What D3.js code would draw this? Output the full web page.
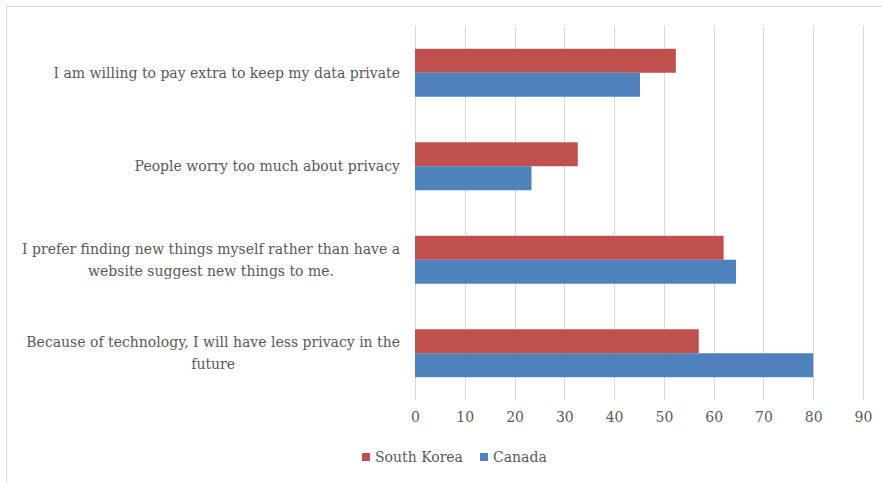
<!DOCTYPE html>
<html>
<head>
<meta charset="utf-8">
<script src="https://cdn.jsdelivr.net/npm/d3@7"></script>
<style>
  html, body { margin: 0; padding: 0; background: #fff; }
  svg { display: block; }
  text { font-family: "DejaVu Serif", "Liberation Serif", serif; fill: #595959; }
</style>
</head>
<body>
<svg id="chart" width="882" height="483"></svg>
<script>
// Survey statements, listed top to bottom
const categories = [
  "I am willing to pay extra to keep my data private",
  "People worry too much about privacy",
  "I prefer finding new things myself rather than have a\nwebsite suggest new things to me.",
  "Because of technology, I will have less privacy in the\nfuture"
];
const seriesNames = ["South Korea", "Canada"];
const southKorea = [52.4, 32.7, 62.0, 57.0];
const canada = [45.2, 23.4, 64.5, 80.0];
const xTicks = [0, 10, 20, 30, 40, 50, 60, 70, 80, 90];
const colors = ["#c0504d", "#4f81bd"];

const svg = d3.select("#chart");
const margin = { left: 415, right: 19, top: 26, bottom: 83 };
const W = 882, H = 483;
const fontSize = 14;

// Chart area frame
svg.append("rect")
  .attr("x", 6.5).attr("y", 6.5)
  .attr("width", 900).attr("height", 500)
  .attr("fill", "none").attr("stroke", "#d9d9d9").attr("stroke-width", 1);

const x = d3.scaleLinear().domain([0, 90]).range([margin.left, W - margin.right]);
const y = d3.scaleBand().domain(categories).range([margin.top, H - margin.bottom])
  .paddingInner(0.487).paddingOuter(0.2435);
const inner = d3.scaleBand().domain(seriesNames).range([0, y.bandwidth()]);

// Vertical gridlines
svg.append("g").selectAll("line").data(xTicks).join("line")
  .attr("x1", d => Math.round(x(d)) + 0.5).attr("x2", d => Math.round(x(d)) + 0.5)
  .attr("y1", margin.top).attr("y2", H - margin.bottom)
  .attr("stroke", "#d9d9d9").attr("stroke-width", 1);

// Bars
const seriesData = [southKorea, canada];
seriesNames.forEach((name, si) => {
  svg.append("g").selectAll("rect").data(categories).join("rect")
    .attr("x", x(0))
    .attr("y", c => y(c) + inner(name))
    .attr("width", (c, i) => x(seriesData[si][i]) - x(0))
    .attr("height", inner.bandwidth())
    .attr("fill", colors[si]);
});

// X-axis tick labels
const xAxis = svg.append("g")
  .attr("transform", `translate(0,${H - margin.bottom})`)
  .call(d3.axisBottom(x).tickValues(xTicks).tickSize(0).tickPadding(12));
xAxis.select(".domain").remove();
xAxis.selectAll("text")
  .style("font-family", '"DejaVu Serif", "Liberation Serif", serif')
  .style("font-size", fontSize + "px").attr("fill", "#595959");

// Category labels, wrapped lines centred within a right-aligned block
const labelRight = 400;
const lineH = 22;
const labels = svg.append("g");
categories.forEach(c => {
  const lines = c.split("\n");
  const g = labels.append("g");
  const t = g.append("text").attr("font-size", fontSize + "px").attr("text-anchor", "middle");
  lines.forEach((ln, i) => {
    t.append("tspan").attr("x", 0)
      .attr("y", y(c) + y.bandwidth() / 2 + (i - (lines.length - 1) / 2) * lineH)
      .attr("dy", "0.35em").text(ln);
  });
  const w = t.node().getBBox().width;
  g.attr("transform", `translate(${labelRight - w / 2},0)`);
});

// Legend
const legendItems = [
  { name: "South Korea", color: colors[0], x: 362 },
  { name: "Canada", color: colors[1], x: 480 }
];
const lg = svg.append("g");
legendItems.forEach(d => {
  lg.append("rect").attr("x", d.x).attr("y", 453).attr("width", 8).attr("height", 8).attr("fill", d.color);
  lg.append("text").attr("x", d.x + 13).attr("y", 457).attr("dy", "0.35em")
    .attr("font-size", fontSize + "px").text(d.name);
});
</script>
</body>
</html>
